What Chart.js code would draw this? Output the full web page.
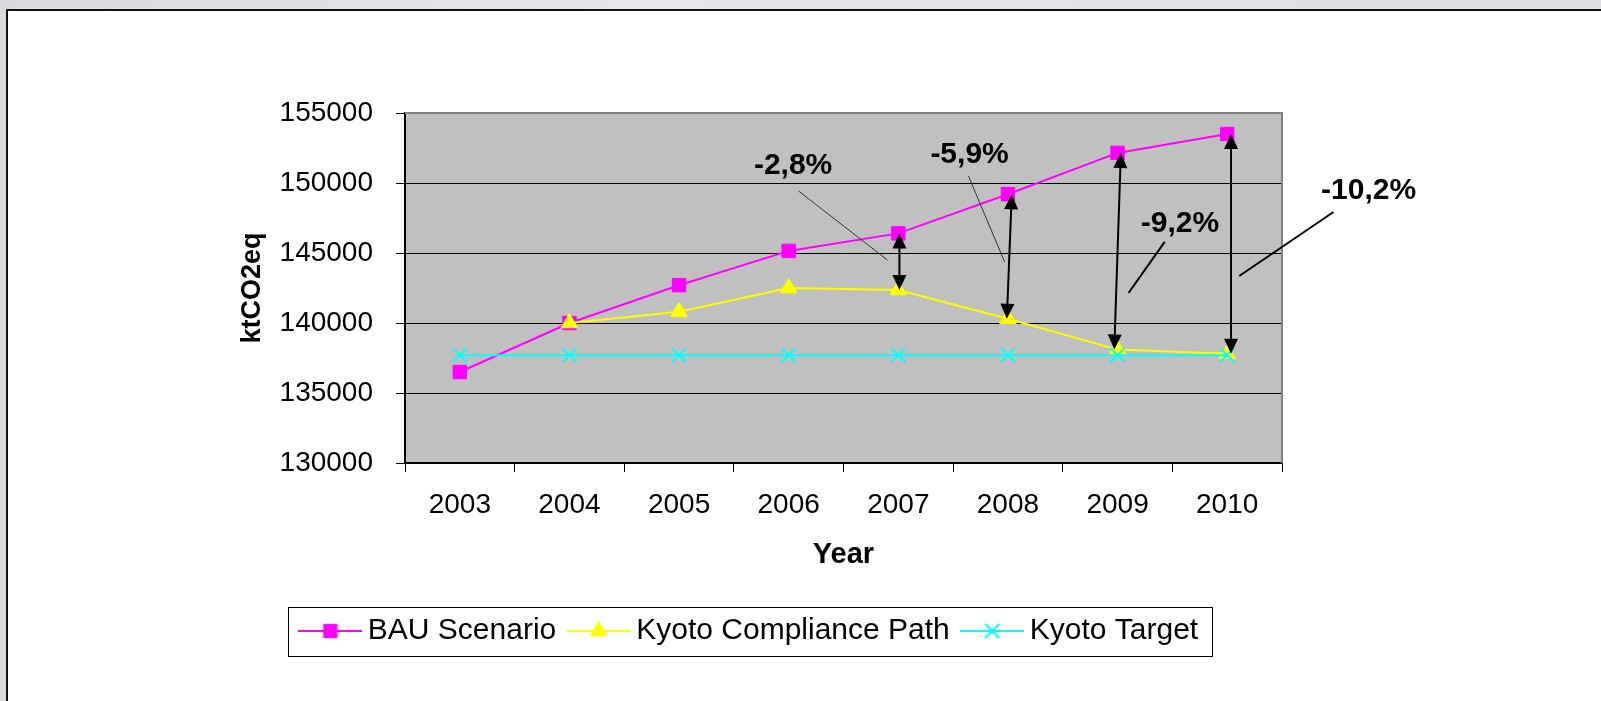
<!DOCTYPE html>
<html>
<head>
<meta charset="utf-8">
<script src="https://cdn.jsdelivr.net/npm/chart.js@4.4.1/dist/chart.umd.min.js"></script>
<style>
  html, body { margin: 0; padding: 0; }
  body { width: 1601px; height: 701px; overflow: hidden; position: relative; background: linear-gradient(90deg, #d9dbdf, #e4e6ea 40%, #dcdee2); }
  #frame { position: absolute; left: 6px; top: 9px; width: 1620px; height: 720px; background: #fff; border-left: 2px solid #111; border-top: 2px solid #111; }
  #wrap { position: absolute; left: 0; top: 0; width: 1601px; height: 701px; }
</style>
</head>
<body>
<div id="frame"></div>
<div id="wrap"><canvas id="emissionsChart" width="1601" height="701"></canvas></div>
<script>
// chart values (ktCO2eq)
var years = ['2003', '2004', '2005', '2006', '2007', '2008', '2009', '2010'];
var bauScenario = [136500, 140000, 142700, 145150, 146400, 149200, 152150, 153500];
var kyotoPath = [null, 140000, 140800, 142500, 142350, 140300, 138100, 137800];
var kyotoTarget = [137700, 137700, 137700, 137700, 137700, 137700, 137700, 137700];
var yTickValues = [130000, 135000, 140000, 145000, 150000, 155000];

// gap notes between BAU and compliance path
var gapYears = [4, 5, 6, 7];
var gapLabels = ['-2,8%', '-5,9%', '-9,2%', '-10,2%'];

// where the notes sit, in chart units (category index, value)
var notes = {
  arrowTopShift: [0.01, 0.035, 0.03, 0.035],
  arrowBottomShift: [0.01, -0.01, -0.03, 0.035],
  labelAt: [[3.04, 151200], [4.65, 152000], [6.57, 147100], [8.29, 149450]],
  leaderFrom: [[3.09, 149430], [4.64, 150500], [6.43, 145790], [7.97, 147930]],
  leaderTo: [[3.90, 144500], [4.97, 144360], [6.10, 142140], [7.11, 143360]],
  leaderColor: ['#333', '#333', '#000', '#000'],
  leaderWidth: [1, 1, 2, 2]
};

var FONT = '"Liberation Sans", Arial, sans-serif';

function legendIcon(color, style, radius, bw) {
  var c = document.createElement('canvas');
  c.width = 64; c.height = 24;
  var g = c.getContext('2d');
  g.strokeStyle = color; g.fillStyle = color; g.lineWidth = 2;
  g.beginPath(); g.moveTo(0, 12); g.lineTo(64, 12); g.stroke();
  g.lineWidth = bw;
  Chart.helpers.drawPoint(g, { pointStyle: style, radius: radius, borderWidth: bw, rotation: 0 }, 32, 12);
  return c;
}

function drawArrow(ctx, x1, y1, x2, y2) {
  var ang = Math.atan2(y2 - y1, x2 - x1);
  var head = 15, half = 7;
  ctx.lineWidth = 2;
  ctx.strokeStyle = '#000';
  ctx.fillStyle = '#000';
  ctx.beginPath();
  ctx.moveTo(x1 + Math.cos(ang) * head * 0.8, y1 + Math.sin(ang) * head * 0.8);
  ctx.lineTo(x2 - Math.cos(ang) * head * 0.8, y2 - Math.sin(ang) * head * 0.8);
  ctx.stroke();
  [[x1, y1, ang], [x2, y2, ang + Math.PI]].forEach(function (h) {
    var tx = h[0], ty = h[1], a = h[2];
    var bx = tx + Math.cos(a) * head, by = ty + Math.sin(a) * head;
    ctx.beginPath();
    ctx.moveTo(tx, ty);
    ctx.lineTo(bx + Math.cos(a + Math.PI / 2) * half, by + Math.sin(a + Math.PI / 2) * half);
    ctx.lineTo(bx - Math.cos(a + Math.PI / 2) * half, by - Math.sin(a + Math.PI / 2) * half);
    ctx.closePath();
    ctx.fill();
  });
}

var plotBack = {
  id: 'plotBack',
  beforeDraw: function (chart) {
    var a = chart.chartArea, ctx = chart.ctx;
    ctx.save();
    ctx.fillStyle = '#c0c0c0';
    ctx.fillRect(a.left, a.top, a.right - a.left, a.bottom - a.top);
    ctx.restore();
  },
  beforeDatasetsDraw: function (chart) {
    var a = chart.chartArea, ctx = chart.ctx;
    ctx.save();
    ctx.strokeStyle = '#808080';
    ctx.lineWidth = 2;
    ctx.beginPath();
    ctx.moveTo(a.left, a.top);
    ctx.lineTo(a.right, a.top);
    ctx.lineTo(a.right, a.bottom);
    ctx.stroke();
    ctx.restore();
  }
};

var gapNotes = {
  id: 'gapNotes',
  afterDraw: function (chart) {
    var ctx = chart.ctx, xs = chart.scales.x, ys = chart.scales.y;
    ctx.save();
    gapYears.forEach(function (yi, k) {
      drawArrow(ctx,
        xs.getPixelForValue(yi + notes.arrowTopShift[k]), ys.getPixelForValue(bauScenario[yi]),
        xs.getPixelForValue(yi + notes.arrowBottomShift[k]), ys.getPixelForValue(kyotoPath[yi]));
    });
    gapLabels.forEach(function (txt, k) {
      var f = notes.leaderFrom[k], t = notes.leaderTo[k];
      ctx.strokeStyle = notes.leaderColor[k];
      ctx.lineWidth = notes.leaderWidth[k];
      ctx.beginPath();
      ctx.moveTo(xs.getPixelForValue(f[0]), ys.getPixelForValue(f[1]));
      ctx.lineTo(xs.getPixelForValue(t[0]), ys.getPixelForValue(t[1]));
      ctx.stroke();
      var p = notes.labelAt[k];
      ctx.fillStyle = '#000';
      ctx.font = 'bold 30px ' + FONT;
      ctx.textAlign = 'center';
      ctx.textBaseline = 'middle';
      ctx.fillText(txt, xs.getPixelForValue(p[0]), ys.getPixelForValue(p[1]));
    });
    // legend frame
    var hb = chart.legend.legendHitBoxes;
    if (hb && hb.length) {
      var last = hb[hb.length - 1];
      var l = Math.round(hb[0].left - 19.5) + 0.5;
      var r = Math.round(last.left + last.width + 14) + 0.5;
      var cy = hb[0].top + hb[0].height / 2;
      ctx.strokeStyle = '#000';
      ctx.lineWidth = 1;
      ctx.strokeRect(l, Math.round(cy - 24.5) + 0.5, r - l, 49);
    }
    ctx.restore();
  }
};

var seriesStyle = [
  { color: '#ff00ff', style: 'rect', radius: 9.5, bw: 1 },
  { color: '#ffff00', style: 'triangle', radius: 9.5, bw: 1 },
  { color: '#00ffff', style: 'crossRot', radius: 10, bw: 2 }
];
var icons = seriesStyle.map(function (s) { return legendIcon(s.color, s.style, s.radius, s.bw); });

new Chart(document.getElementById('emissionsChart'), {
  type: 'line',
  data: {
    labels: years,
    datasets: [
      { label: 'BAU Scenario', data: bauScenario, order: 3 },
      { label: 'Kyoto Compliance Path', data: kyotoPath, order: 2 },
      { label: 'Kyoto Target', data: kyotoTarget, order: 1 }
    ].map(function (d, i) {
      var s = seriesStyle[i];
      d.borderColor = s.color;
      d.backgroundColor = s.color;
      d.borderWidth = 2;
      d.pointStyle = s.style;
      d.pointRadius = s.radius;
      d.pointBorderWidth = s.bw;
      d.pointBackgroundColor = s.color;
      d.pointBorderColor = s.color;
      d.tension = 0;
      d.fill = false;
      return d;
    })
  },
  options: {
    responsive: false,
    animation: false,
    devicePixelRatio: 1,
    layout: { padding: { left: 224, right: 319, top: 113, bottom: 45 } },
    plugins: {
      tooltip: { enabled: false },
      legend: {
        position: 'bottom',
        labels: {
          usePointStyle: true,
          pointStyleWidth: 45,
          padding: 20,
          color: '#000',
          font: { family: FONT, size: 30 },
          generateLabels: function (chart) {
            return chart.data.datasets.map(function (ds, i) {
              return { text: ds.label, pointStyle: icons[i], datasetIndex: i, lineWidth: 0, hidden: false, fontColor: '#000' };
            });
          }
        }
      }
    },
    scales: {
      x: {
        offset: true,
        grid: { offset: true, drawOnChartArea: false, drawTicks: true, tickLength: 9, color: '#000' },
        border: { color: '#000', width: 2 },
        ticks: { padding: 16, color: '#000', font: { family: FONT, size: 28 }, maxRotation: 0, autoSkip: false },
        title: { display: true, text: 'Year', color: '#000', font: { family: FONT, size: 29, weight: 'bold' }, padding: { top: 0, bottom: 24 } },
        afterFit: function (s) { s.height = 133; }
      },
      y: {
        min: 130000,
        max: 155000,
        afterBuildTicks: function (s) { s.ticks = yTickValues.map(function (v) { return { value: v }; }); },
        grid: { color: '#000', lineWidth: 1, drawTicks: true, tickLength: 9 },
        border: { color: '#000', width: 2 },
        ticks: { padding: 23, color: '#000', font: { family: FONT, size: 28 }, callback: function (v) { return String(v); } },
        title: { display: true, text: 'ktCO2eq', color: '#000', font: { family: FONT, size: 27, weight: 'bold' }, padding: { top: 12, bottom: 0 } },
        afterFit: function (s) { s.width = 181; }
      }
    }
  },
  plugins: [plotBack, gapNotes]
});
</script>
</body>
</html>
